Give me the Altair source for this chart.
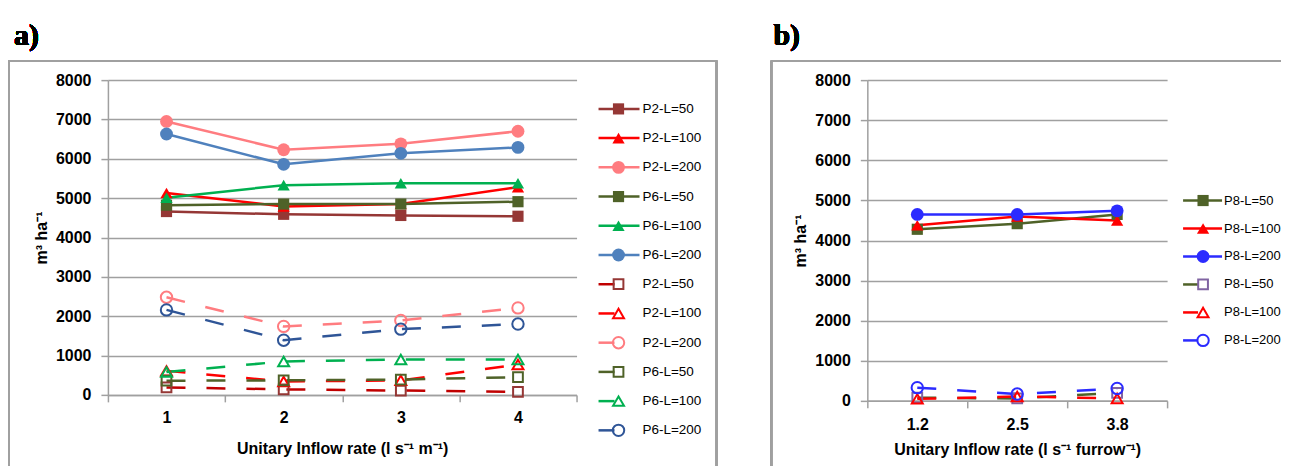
import altair as alt
import pandas as pd

# ---------------- data: panel a ----------------
A_CATS = ["1", "2", "3", "4"]
A_NAMES = ["P2-L=50", "P2-L=100", "P2-L=200", "P6-L=50", "P6-L=100", "P6-L=200",
           "P2-L=50", "P2-L=100", "P2-L=200", "P6-L=50", "P6-L=100", "P6-L=200"]
A_STYLE = ["solid"] * 6 + ["dashed"] * 6
A_VALUES = [
    [4660, 4590, 4560, 4540],
    [5130, 4790, 4850, 5280],
    [6950, 6230, 6380, 6700],
    [4820, 4850, 4850, 4910],
    [5010, 5330, 5380, 5380],
    [6630, 5860, 6140, 6290],
    [190, 140, 110, 75],
    [610, 340, 370, 770],
    [2480, 1740, 1890, 2210],
    [360, 370, 390, 450],
    [580, 850, 900, 900],
    [2160, 1390, 1670, 1800],
]
A_LINE_COLORS = ["#953735", "#FF0000", "#FF7C80", "#4F6228", "#00B050", "#4F81BD",
                 "#C00000", "#FF0000", "#FF7C80", "#4F6228", "#00B050", "#2F5597"]
A_MARK_COLORS = ["#953735", "#FF0000", "#FF7C80", "#4F6228", "#00B050", "#4F81BD",
                 "#953735", "#FF0000", "#FF7C80", "#4F6228", "#00B050", "#2F5597"]
A_SHAPES = ["square", "triangle-up", "circle"] * 4

# ---------------- data: panel b ----------------
B_CATS = ["1.2", "2.5", "3.8"]
B_NAMES = ["P8-L=50", "P8-L=100", "P8-L=200", "P8-L=50", "P8-L=100", "P8-L=200"]
B_STYLE = ["solid"] * 3 + ["dashed"] * 3
B_VALUES = [
    [4280, 4420, 4650],
    [4380, 4600, 4500],
    [4650, 4650, 4740],
    [80, 60, 200],
    [50, 110, 60],
    [330, 170, 310],
]
B_LINE_COLORS = ["#4F6228", "#FF0000", "#2B2BFF", "#4F6228", "#FF0000", "#2B2BFF"]
B_MARK_COLORS = ["#4F6228", "#FF0000", "#2B2BFF", "#8064A2", "#FF0000", "#2B2BFF"]
B_SHAPES = ["square", "triangle-up", "circle"] * 2

SIZE_FILLED = {"square": 125, "triangle-up": 150, "circle": 165}
SIZE_OPEN = {"square": 95, "triangle-up": 120, "circle": 130}

GRAY = "#A0A0A0"
FONT = "Liberation Sans"
DASH = [19, 21]


def build_frames(cats, names, styles, values, lcolors, mcolors, shapes):
    rows, leg = [], []
    for i, (nm, st, vals) in enumerate(zip(names, styles, values)):
        sz = SIZE_FILLED[shapes[i]] if st == "solid" else SIZE_OPEN[shapes[i]]
        for c, v in zip(cats, vals):
            rows.append(dict(sid=i, name=nm, style=st, x=c, y=v,
                             lcolor=lcolors[i], mcolor=mcolors[i],
                             shape=shapes[i], msize=sz))
        leg.append(dict(row=i, name=nm, style=st, lcolor=lcolors[i],
                        mcolor=mcolors[i], shape=shapes[i], msize=sz))
    return pd.DataFrame(rows), pd.DataFrame(leg)


def panel(cats, names, styles, values, lcolors, mcolors, shapes, *,
          width, height, xtitle, tag, tag_x, frame, legend_rows, legend_x,
          legend_font, label_pad_x, title_pad_x):
    df, leg = build_frames(cats, names, styles, values, lcolors, mcolors, shapes)
    n = len(names)

    xenc = alt.X("x:N", bandPosition=0.5,
                 scale=alt.Scale(type="band", domain=cats, paddingInner=0, paddingOuter=0),
                 axis=alt.Axis(title=xtitle, tickBand="extent", labelAngle=0, grid=False,
                               domainColor=GRAY, domainWidth=1.5, tickColor=GRAY,
                               tickWidth=1.5, tickSize=7, labelFont=FONT,
                               labelFontSize=16, labelFontWeight="bold",
                               labelColor="black", labelPadding=label_pad_x,
                               titleFont=FONT, titleFontSize=16,
                               titleFontWeight="bold", titleColor="black",
                               titlePadding=title_pad_x))
    yscale = alt.Scale(domain=[0, 8000], nice=False, zero=True)
    yaxis = alt.Axis(title="m³ ha⁻¹", values=list(range(0, 8001, 1000)), format="d",
                     grid=True, gridColor=GRAY, gridWidth=1.5, domainColor=GRAY,
                     domainWidth=1.5, tickColor=GRAY, tickWidth=1.5, tickSize=7,
                     labelFont=FONT, labelFontSize=16, labelFontWeight="bold",
                     labelColor="black", labelPadding=10, titleFont=FONT, titleFontSize=16,
                     titleFontWeight="bold", titleColor="black", titlePadding=6)
    y_main = alt.Y("y:Q", scale=yscale, axis=yaxis)
    y_plain = alt.Y("y:Q", scale=yscale, axis=None)

    base = alt.Chart(df)
    solid = base.transform_filter(alt.datum.style == "solid")
    dashed = base.transform_filter(alt.datum.style == "dashed")

    layers = [
        dashed.mark_line(strokeWidth=2.5, strokeDash=DASH).encode(
            x=xenc, y=y_main, detail="sid:N", color=alt.Color("lcolor:N", scale=None)),
        dashed.mark_point(filled=False, strokeWidth=2, opacity=1).encode(
            x=xenc, y=y_plain, color=alt.Color("mcolor:N", scale=None),
            shape=alt.Shape("shape:N", scale=None), size=alt.Size("msize:Q", scale=None)),
        solid.mark_line(strokeWidth=2.5).encode(
            x=xenc, y=y_plain, detail="sid:N", color=alt.Color("lcolor:N", scale=None)),
        solid.mark_point(filled=True, opacity=1).encode(
            x=xenc, y=y_plain, color=alt.Color("mcolor:N", scale=None),
            shape=alt.Shape("shape:N", scale=None), size=alt.Size("msize:Q", scale=None)),
    ]

    # legend (drawn from the same series lists)
    ly = alt.Y("row:Q", scale=alt.Scale(domain=[0, n - 1], range=legend_rows, nice=False,
                                        zero=False), axis=None)
    lb = alt.Chart(leg)
    lsolid = lb.transform_filter(alt.datum.style == "solid")
    ldashed = lb.transform_filter(alt.datum.style == "dashed")
    x0, xm, x1, xd, xt = legend_x
    layers += [
        lsolid.mark_rule(strokeWidth=2.5).encode(
            x=alt.value(x0), x2=alt.value(x1), y=ly, color=alt.Color("lcolor:N", scale=None)),
        ldashed.mark_rule(strokeWidth=2.5).encode(
            x=alt.value(x0), x2=alt.value(xd), y=ly, color=alt.Color("lcolor:N", scale=None)),
        lsolid.mark_point(filled=True, opacity=1).encode(
            x=alt.value(xm), y=ly, color=alt.Color("mcolor:N", scale=None),
            shape=alt.Shape("shape:N", scale=None), size=alt.Size("msize:Q", scale=None)),
        ldashed.mark_point(filled=False, strokeWidth=2, opacity=1).encode(
            x=alt.value(xm), y=ly, color=alt.Color("mcolor:N", scale=None),
            shape=alt.Shape("shape:N", scale=None), size=alt.Size("msize:Q", scale=None)),
        lb.mark_text(align="left", baseline="middle", font=FONT, fontSize=legend_font,
                     color="black").encode(x=alt.value(xt), y=ly, text="name:N"),
    ]

    # panel tag, frame and an invisible top anchor
    fl, ft, fr, fb, right_side = frame
    layers += [
        alt.Chart(df).mark_rule(color="white", strokeWidth=1).encode(
            x=alt.value(fl), x2=alt.value(fl + 1), y=alt.value(-71)),
        alt.Chart(df).mark_text(text=tag, align="left", baseline="alphabetic",
                                font="Liberation Serif", fontSize=30, fontWeight="bold",
                                color="black").encode(x=alt.value(tag_x), y=alt.value(-35.5)),
        alt.Chart(df).mark_rule(color=GRAY, strokeWidth=1.5).encode(
            x=alt.value(fl), y=alt.value(ft), y2=alt.value(fb)),
        alt.Chart(df).mark_rule(color=GRAY, strokeWidth=1.5).encode(
            x=alt.value(fl), x2=alt.value(fr), y=alt.value(ft)),
    ]
    if right_side:
        layers.append(alt.Chart(df).mark_rule(color=GRAY, strokeWidth=1.5).encode(
            x=alt.value(fr), y=alt.value(ft), y2=alt.value(fb)))

    return alt.layer(*layers).resolve_scale(y="independent").properties(
        width=width, height=height)


chart_a = panel(A_CATS, A_NAMES, A_STYLE, A_VALUES, A_LINE_COLORS, A_MARK_COLORS, A_SHAPES,
                width=469, height=315, xtitle="Unitary Inflow rate (l s⁻¹ m⁻¹)", tag="a)",
                tag_x=-94, frame=(-99, -19.5, 609, 396, True), legend_rows=[28.8, 350.5],
                legend_x=(491, 511, 532, 507, 535), legend_font=13.5,
                label_pad_x=8, title_pad_x=15)

chart_b = panel(B_CATS, B_NAMES, B_STYLE, B_VALUES, B_LINE_COLORS, B_MARK_COLORS, B_SHAPES,
                width=300, height=321, xtitle="Unitary Inflow rate (l s⁻¹ furrow⁻¹)", tag="b)",
                tag_x=-94, frame=(-96, -19.5, 414, 396, False), legend_rows=[120.5, 260.5],
                legend_x=(316, 336, 355, 331, 357), legend_font=13,
                label_pad_x=9, title_pad_x=9)

chart = alt.hconcat(chart_a, chart_b, spacing=53).properties(
    padding={"top": 0, "left": 0, "right": 0, "bottom": -11}, background="white"
).configure_view(stroke=None)

chart.save("out.html", embed_options={"renderer": "svg", "actions": False})
